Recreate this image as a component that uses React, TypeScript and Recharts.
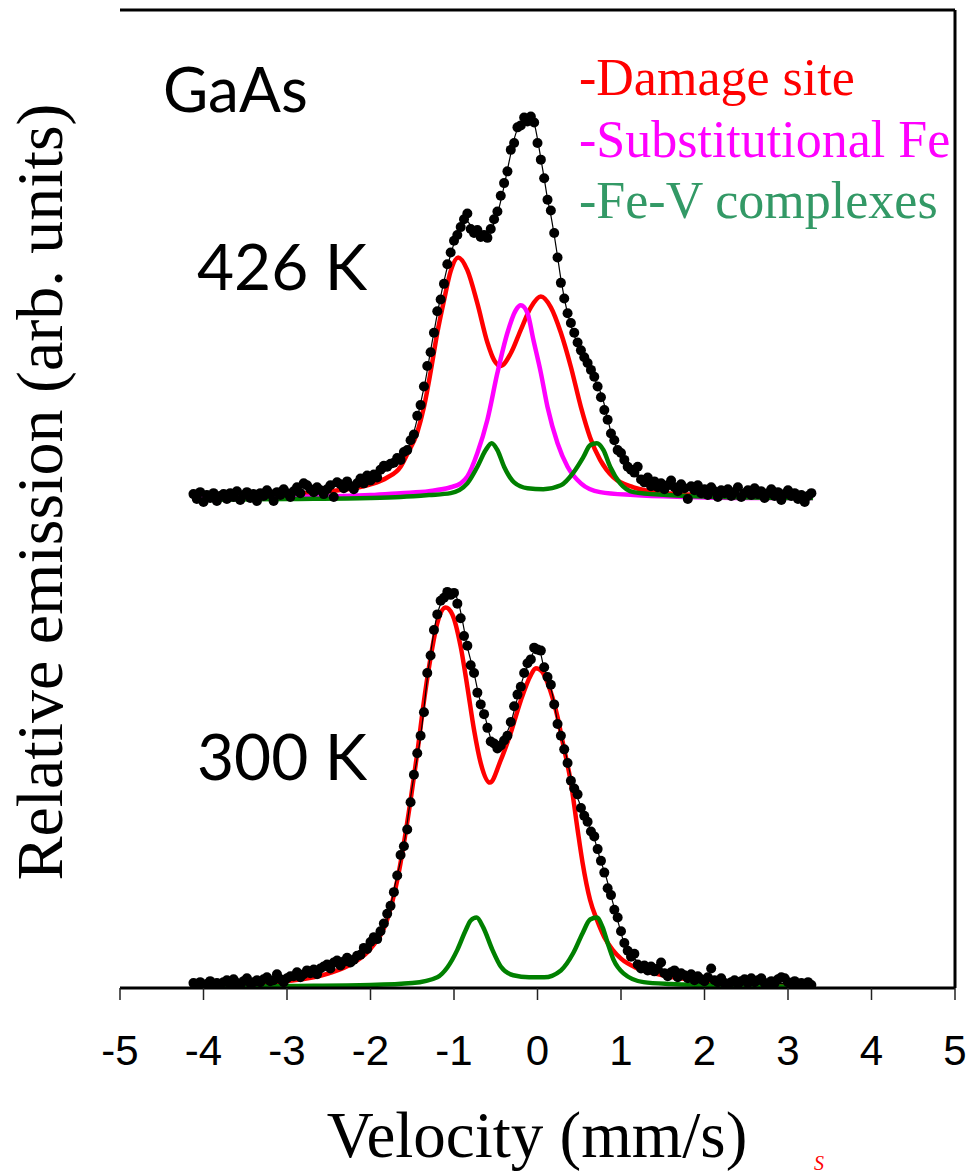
import React from 'react';
import { ComposedChart, Line, Scatter, XAxis, YAxis, ReferenceLine } from 'recharts';

// ---------- axes ----------
const xTicks = [-5, -4, -3, -2, -1, 0, 1, 2, 3, 4, 5];
const yTicks = [0, 1, 2, 3, 4, 5, 6, 7, 8, 9, 10];

// ---------- 300 K (lower spectrum, baseline 0) ----------
const lowerDamageX = [-4.1, -3.5, -3.0, -2.5, -2.2, -2.0, -1.8, -1.68, -1.6, -1.52, -1.44, -1.37, -1.28, -1.2, -1.1, -1.02, -0.92, -0.84, -0.76, -0.68, -0.57, -0.44, -0.32, -0.2, -0.08, -0.02, 0.05, 0.12, 0.24, 0.3, 0.4, 0.48, 0.54, 0.63, 0.71, 0.8, 0.9, 1.0, 1.2, 1.5, 2.0, 2.5, 3.3];
const lowerDamageY = [0.02, 0.04, 0.07, 0.15, 0.26, 0.4, 0.7, 1.1, 1.48, 1.92, 2.4, 2.87, 3.38, 3.73, 3.89, 3.82, 3.49, 3.08, 2.64, 2.3, 2.1, 2.33, 2.61, 2.94, 3.2, 3.27, 3.24, 3.12, 2.77, 2.52, 2.1, 1.62, 1.28, 0.9, 0.7, 0.52, 0.39, 0.3, 0.2, 0.13, 0.07, 0.04, 0.02];

const lowerFeVX = [-4.1, -3.0, -2.0, -1.5, -1.2, -1.08, -0.96, -0.86, -0.8, -0.73, -0.65, -0.54, -0.44, -0.29, -0.1, 0.08, 0.28, 0.43, 0.54, 0.63, 0.71, 0.78, 0.84, 0.91, 1.03, 1.27, 1.6, 2.0, 2.6, 3.3];
const lowerFeVY = [0.01, 0.02, 0.03, 0.05, 0.11, 0.21, 0.39, 0.59, 0.69, 0.72, 0.62, 0.39, 0.22, 0.13, 0.11, 0.11, 0.18, 0.36, 0.56, 0.7, 0.72, 0.62, 0.46, 0.29, 0.15, 0.06, 0.04, 0.03, 0.02, 0.01];

const lowerFitX = [-4.1, -3.5, -3.0, -2.5, -2.2, -2.0, -1.8, -1.7, -1.6, -1.5, -1.4, -1.3, -1.2, -1.15, -1.1, -1.0, -0.95, -0.9, -0.84, -0.76, -0.7, -0.63, -0.54, -0.46, -0.4, -0.32, -0.26, -0.18, -0.1, -0.04, 0.02, 0.07, 0.12, 0.18, 0.24, 0.33, 0.43, 0.5, 0.6, 0.68, 0.75, 0.82, 0.9, 0.97, 1.03, 1.1, 1.2, 1.35, 1.6, 2.0, 2.5, 3.3];
const lowerFitY = [0.04, 0.07, 0.1, 0.22, 0.3, 0.42, 0.7, 1.08, 1.46, 2.06, 2.57, 3.3, 3.82, 3.95, 4.02, 4.03, 3.95, 3.76, 3.49, 3.22, 2.98, 2.78, 2.52, 2.5, 2.56, 2.71, 2.9, 3.15, 3.33, 3.44, 3.46, 3.3, 3.18, 3.0, 2.72, 2.43, 2.05, 1.9, 1.69, 1.53, 1.32, 1.14, 0.88, 0.66, 0.48, 0.36, 0.27, 0.2, 0.14, 0.09, 0.06, 0.04];

// measured points, velocity channels from -4.12 mm/s in 0.04 mm/s steps
const dotStart = -4.12;
const dotStep = 0.04;
const lowerDots = [
  0.05, 0.03, 0.06, 0.02, 0.04, 0.07, 0.03, 0.05, 0.04, 0.06,
  0.08, 0.04, 0.09, 0.05, 0.03, 0.07, 0.10, 0.05, 0.06, 0.08,
  0.06, 0.09, 0.11, 0.07, 0.08, 0.14, 0.09, 0.06, 0.10, 0.12,
  0.12, 0.16, 0.11, 0.14, 0.18, 0.15, 0.19, 0.14, 0.2, 0.22,
  0.24, 0.2, 0.26, 0.28, 0.23, 0.27, 0.31, 0.26, 0.29, 0.33,
  0.34, 0.41, 0.4, 0.47, 0.52, 0.5, 0.58, 0.66, 0.76, 0.84,
  0.98, 1.15, 1.36, 1.45, 1.62, 1.9, 2.18, 2.4, 2.58, 2.82,
  3.22, 3.4, 3.66, 3.82, 3.96, 3.99, 4.05, 4.02, 4.04, 3.93,
  3.78, 3.6, 3.5, 3.3, 3.22, 3.02, 2.9, 2.8, 2.66, 2.52,
  2.5, 2.45, 2.48, 2.53, 2.58, 2.72, 2.88, 3.0, 3.08, 3.22,
  3.32, 3.36, 3.48, 3.46, 3.45, 3.28, 3.18, 3.1, 2.9, 2.7,
  2.58, 2.44, 2.3, 2.12, 2.04, 1.98, 1.84, 1.76, 1.7, 1.6,
  1.55, 1.42, 1.3, 1.18, 1.02, 0.95, 0.8, 0.72, 0.58, 0.46,
  0.38, 0.32, 0.35, 0.24, 0.2, 0.23, 0.18, 0.22, 0.17, 0.2,
  0.26, 0.15, 0.12, 0.16, 0.18, 0.11, 0.15, 0.13, 0.1, 0.14,
  0.08, 0.12, 0.09, 0.07, 0.11, 0.2, 0.08, 0.06, 0.1, 0.05,
  0.03, 0.06, 0.08, 0.04, 0.07, 0.09, 0.05, 0.1, 0.06, 0.08,
  0.1, 0.05, 0.03, 0.07, 0.05, 0.09, 0.11, 0.1, 0.06, 0.04,
  0.07, 0.03, 0.05, 0.02, 0.06, 0.03,
];

// ---------- 426 K (upper spectrum, baseline 5) ----------
const upperDamageX = [-4.1, -3.5, -3.0, -2.5, -2.2, -2.0, -1.8, -1.64, -1.56, -1.44, -1.36, -1.28, -1.2, -1.12, -1.04, -0.95, -0.84, -0.72, -0.6, -0.52, -0.44, -0.32, -0.2, -0.08, 0.04, 0.16, 0.28, 0.4, 0.52, 0.63, 0.75, 0.91, 1.15, 1.55, 2.0, 2.5, 3.3];
const upperDamageY = [5.02, 5.03, 5.05, 5.08, 5.11, 5.15, 5.22, 5.33, 5.46, 5.68, 5.94, 6.3, 6.7, 7.03, 7.33, 7.47, 7.34, 7.0, 6.6, 6.42, 6.36, 6.49, 6.73, 6.96, 7.07, 6.96, 6.7, 6.35, 5.94, 5.63, 5.4, 5.22, 5.12, 5.06, 5.04, 5.03, 5.02];

const upperSubstX = [-4.1, -3.0, -2.0, -1.64, -1.3, -1.04, -0.92, -0.84, -0.72, -0.6, -0.48, -0.36, -0.26, -0.2, -0.12, -0.05, 0.04, 0.12, 0.24, 0.36, 0.52, 0.75, 1.15, 1.8, 2.5, 3.3];
const upperSubstY = [5.01, 5.02, 5.04, 5.06, 5.08, 5.12, 5.16, 5.23, 5.47, 5.81, 6.29, 6.7, 6.93, 6.98, 6.9, 6.63, 6.29, 5.94, 5.57, 5.33, 5.16, 5.07, 5.04, 5.02, 5.01, 5.01];

const upperFeVX = [-4.1, -3.0, -2.0, -1.64, -1.3, -1.04, -0.84, -0.72, -0.62, -0.55, -0.48, -0.4, -0.28, -0.12, 0.07, 0.28, 0.43, 0.55, 0.63, 0.71, 0.79, 0.87, 0.99, 1.15, 1.55, 2.2, 3.3];
const upperFeVY = [4.99, 5.0, 5.01, 5.02, 5.04, 5.06, 5.16, 5.33, 5.5, 5.57, 5.5, 5.33, 5.17, 5.11, 5.1, 5.14, 5.27, 5.43, 5.55, 5.57, 5.5, 5.33, 5.16, 5.07, 5.04, 5.02, 5.01];

const upperFitX = [-4.1, -3.5, -3.0, -2.6, -2.3, -2.0, -1.8, -1.7, -1.6, -1.52, -1.46, -1.4, -1.34, -1.28, -1.22, -1.16, -1.1, -1.04, -0.98, -0.92, -0.86, -0.8, -0.74, -0.66, -0.58, -0.52, -0.46, -0.4, -0.34, -0.28, -0.2, -0.12, -0.05, 0.0, 0.04, 0.08, 0.12, 0.16, 0.2, 0.24, 0.28, 0.32, 0.36, 0.42, 0.5, 0.6, 0.7, 0.78, 0.84, 0.9, 0.96, 1.04, 1.12, 1.2, 1.35, 1.6, 2.0, 2.5, 3.3];
const upperFitY = [5.04, 5.06, 5.09, 5.12, 5.15, 5.2, 5.3, 5.37, 5.46, 5.58, 5.75, 5.98, 6.22, 6.52, 6.8, 7.07, 7.3, 7.5, 7.66, 7.77, 7.85, 7.8, 7.74, 7.71, 7.74, 7.82, 7.98, 8.2, 8.45, 8.68, 8.84, 8.88, 8.86, 8.68, 8.48, 8.28, 8.07, 7.9, 7.7, 7.48, 7.25, 7.06, 6.9, 6.72, 6.55, 6.38, 6.2, 6.03, 5.82, 5.62, 5.5, 5.4, 5.31, 5.25, 5.17, 5.11, 5.07, 5.04, 5.02];

const upperDots = [
  5.05, 5.0, 5.07, 4.97, 5.04, 5.01, 5.06, 4.98, 5.03, 5.05,
  5.0, 5.06, 5.02, 5.08, 4.99, 5.04, 5.07, 5.01, 5.05, 4.98,
  5.06, 5.03, 5.09, 5.05, 4.98, 5.07, 5.04, 5.1, 5.06, 5.02,
  5.08, 5.12, 5.06, 5.16, 5.14, 5.1, 5.07, 5.12, 5.09, 5.05,
  5.1, 5.14, 5.02, 5.17, 5.15, 5.11, 5.18, 5.13, 5.1, 5.16,
  5.21, 5.16, 5.24, 5.19, 5.25, 5.22, 5.3, 5.34, 5.33, 5.36,
  5.37, 5.42, 5.4, 5.48, 5.5, 5.6, 5.66, 5.85, 5.96, 6.15,
  6.36, 6.5, 6.7, 6.92, 7.04, 7.2, 7.4, 7.52, 7.64, 7.7,
  7.78, 7.86, 7.92, 7.76, 7.72, 7.75, 7.68, 7.7, 7.67, 7.76,
  7.86, 7.94, 8.1, 8.23, 8.35, 8.57, 8.64, 8.8, 8.82, 8.9,
  8.86, 8.91, 8.85, 8.64, 8.47, 8.28, 8.06, 7.95, 7.72, 7.47,
  7.21, 7.05, 6.9, 6.8, 6.7, 6.6, 6.52, 6.45, 6.39, 6.32,
  6.25, 6.15, 6.04, 5.91, 5.81, 5.67, 5.6, 5.5, 5.47, 5.4,
  5.33, 5.3, 5.27, 5.33, 5.2, 5.17, 5.22, 5.13, 5.18, 5.12,
  5.16, 5.1, 5.14, 5.19, 5.12, 5.08, 5.15, 5.11, 5.0, 5.13,
  5.09, 5.14, 5.06, 5.1, 5.04, 5.12, 5.08, 5.02, 5.09, 5.06,
  5.1, 5.03, 5.07, 5.12, 5.02, 5.06, 5.09, 5.04, 5.11, 5.05,
  5.08, 5.01, 5.06, 5.1, 5.03, 5.07, 4.99, 5.05, 5.09, 5.03,
  5.06, 5.0, 5.04, 4.97, 5.03, 5.06,
];

// ---------- helpers ----------
const zip = (xs: number[], ys: number[]) =>
  xs.slice(0, Math.min(xs.length, ys.length)).map((x, i) => ({ x, y: ys[i] }));
const channels = (ys: number[]) =>
  ys.map((y, i) => ({ x: Number((dotStart + i * dotStep).toFixed(2)), y }));

const RED = '#ff0000';
const MAGENTA = '#ff00ff';
const GREEN = '#008000';
const LEGEND_GREEN = '#339966';
const SERIF = "'Liberation Serif', 'Times New Roman', serif";
const SANS = "'Liberation Sans', Arial, sans-serif";
const COMIC = "'Comic Sans MS', Lato, sans-serif";

const Dot = (props: any) => {
  const { cx, cy } = props;
  if (cx == null || cy == null) return null;
  return <circle cx={cx} cy={cy} r={5} fill="#000" />;
};

export default function App() {
  const curve = (data: any[], color: string, w: number, key: string) => (
    <Line
      key={key}
      data={data}
      dataKey="y"
      type="monotone"
      stroke={color}
      strokeWidth={w}
      dot={false}
      activeDot={false}
      isAnimationActive={false}
      legendType="none"
    />
  );
  return (
    <div style={{ position: 'absolute', left: 0, top: 0, width: 972, height: 1174, overflow: 'hidden', background: '#fff' }}>
      <ComposedChart width={972} height={1174} margin={{ top: 10, right: 17, left: 120, bottom: 86 }}>
        <XAxis
          dataKey="x"
          type="number"
          domain={[-5, 5]}
          ticks={xTicks}
          interval={0}
          allowDataOverflow
          height={100}
          tickSize={12}
          tickMargin={35}
          axisLine={{ stroke: '#000', strokeWidth: 3 }}
          tickLine={{ stroke: '#222', strokeWidth: 1.5 }}
          tick={{ fill: '#000', fontSize: 42, fontFamily: SANS }}
        />
        <YAxis
          type="number"
          domain={[0, 10]}
          ticks={yTicks}
          interval={0}
          allowDataOverflow
          width={0}
          tickSize={4}
          tick={false}
          axisLine={{ stroke: '#000', strokeWidth: 3 }}
          tickLine={{ stroke: '#000', strokeWidth: 1 }}
        />
        <ReferenceLine y={10} stroke="#000" strokeWidth={3} />
        <ReferenceLine x={5} stroke="#000" strokeWidth={3} />
        {curve(zip(upperDamageX, upperDamageY), RED, 4.5, 'ud')}
        {curve(zip(upperSubstX, upperSubstY), MAGENTA, 4.5, 'us')}
        {curve(zip(upperFeVX, upperFeVY), GREEN, 4.5, 'uf')}
        {curve(zip(upperFitX, upperFitY), '#000', 1.2, 'ut')}
        {curve(zip(lowerDamageX, lowerDamageY), RED, 4.5, 'ld')}
        {curve(zip(lowerFeVX, lowerFeVY), GREEN, 4.5, 'lf')}
        {curve(zip(lowerFitX, lowerFitY), '#000', 1.2, 'lt')}
        <Scatter data={channels(upperDots)} dataKey="y" shape={Dot} isAnimationActive={false} legendType="none" />
        <Scatter data={channels(lowerDots)} dataKey="y" shape={Dot} isAnimationActive={false} legendType="none" />
      </ComposedChart>
      <svg width={972} height={1174} style={{ position: 'absolute', left: 0, top: 0, pointerEvents: 'none' }}>
        <text x={163} y={112} fontFamily={COMIC} fontSize={62} fill="#000">GaAs</text>
        <text x={197} y={290} fontFamily={COMIC} fontSize={64} fill="#000">426 K</text>
        <text x={197} y={780} fontFamily={COMIC} fontSize={64} fill="#000">300 K</text>
        <text x={579} y={95} fontFamily={SERIF} fontSize={52} fill={RED}>-Damage site</text>
        <text x={579} y={157} fontFamily={SERIF} fontSize={52} fill={MAGENTA}>-Substitutional Fe</text>
        <text x={579} y={218} fontFamily={SERIF} fontSize={52} fill={LEGEND_GREEN}>-Fe-V complexes</text>
        <text x={537} y={1157} textAnchor="middle" fontFamily={SERIF} fontSize={65} fill="#000">Velocity (mm/s)</text>
        <text transform="translate(62,492) rotate(-90)" textAnchor="middle" fontFamily={SERIF} fontSize={66} fill="#000">
          Relative emission (arb. units)
        </text>
        <text x={814} y={1170} fontFamily={SERIF} fontStyle="italic" fontSize={20} fill={RED}>S</text>
      </svg>
    </div>
  );
}
